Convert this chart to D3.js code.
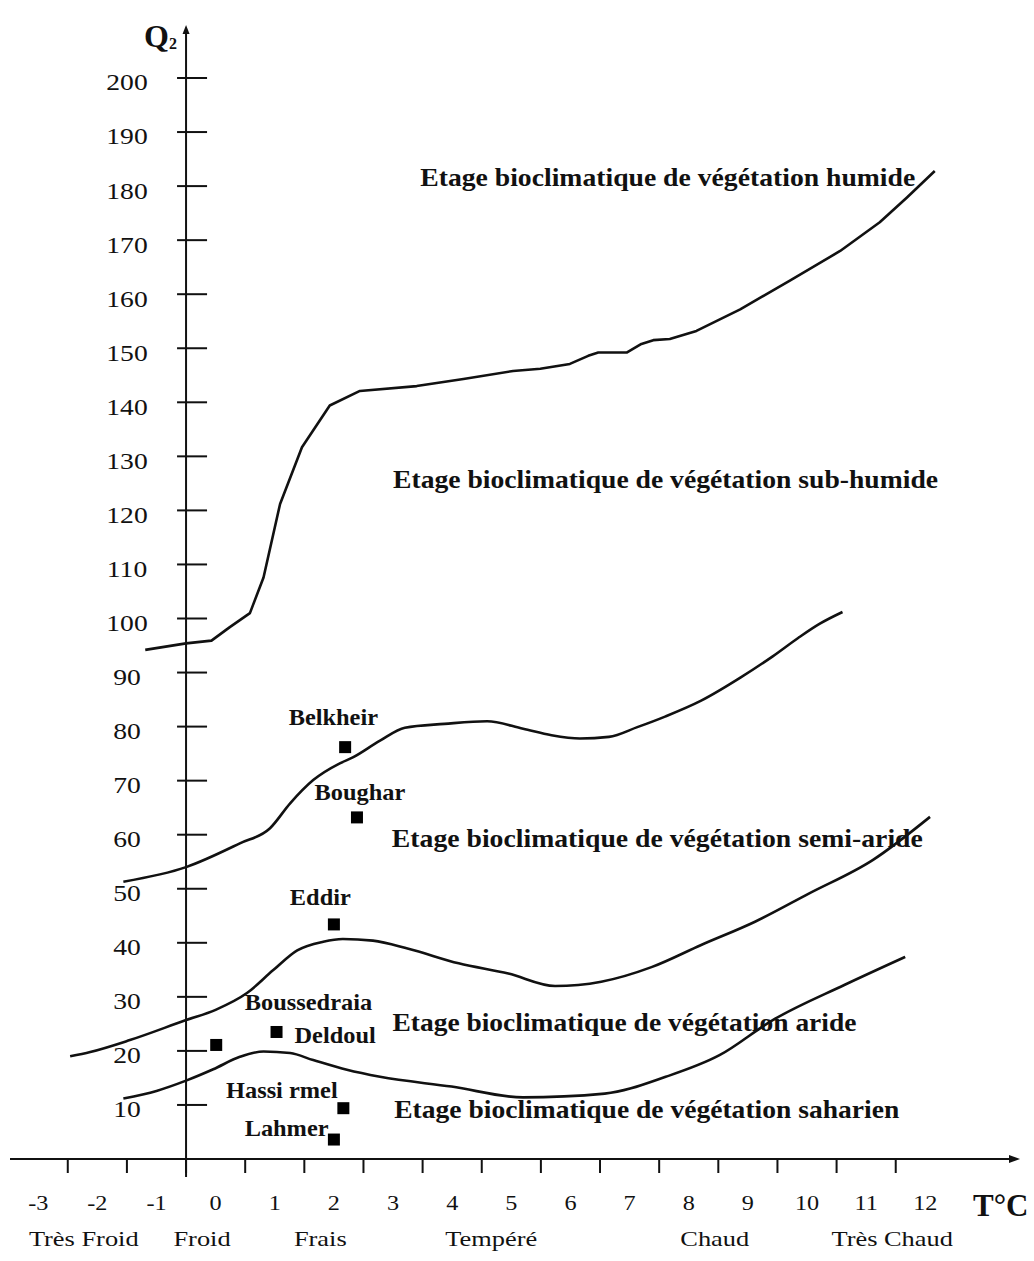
<!DOCTYPE html>
<html><head><meta charset="utf-8">
<script src="https://cdn.jsdelivr.net/npm/d3@7"></script>
<style>
html,body{margin:0;padding:0;background:#fff;}
svg{display:block;}
text{font-family:"Liberation Serif","Times New Roman",serif;fill:#111;}
</style></head><body>
<svg id="chart" width="1034" height="1261"></svg>
<script>
// ---------- data ----------
const tempLabels = [-3,-2,-1,0,1,2,3,4,5,6,7,8,9,10,11,12];
const tempTickMarks = [-2.5,-1.5,-0.5,0.5,1.5,2.5,3.5,4.5,5.5,6.5,7.5,8.5,9.5,10.5,11.5];
const q2Ticks = [10,20,30,40,50,60,70,80,90,100,110,120,130,140,150,160,170,180,190,200];
const climateClasses = ["Très Froid","Froid","Frais","Tempéré","Chaud","Très Chaud"];
const climateClassPos = [-2.23,-0.23,1.77,4.66,8.44,11.44];

// limits between bioclimatic stages: [m (°C), Q2]
const limitHumid = [[-1.19,94.2],[-0.5,95.4],[-0.07,95.9],[0.24,98.4],[0.58,101.0],[0.81,107.6],[1.09,121.2],[1.46,131.7],[1.93,139.4],[2.44,142.1],[3.40,143.0],[4.19,144.3],[5.03,145.8],[5.49,146.2],[5.99,147.1],[6.30,148.6],[6.47,149.2],[6.95,149.2],[7.20,150.8],[7.40,151.5],[7.68,151.7],[8.13,153.2],[8.87,157.2],[9.71,162.5],[10.56,168.0],[11.23,173.3],[11.69,177.9],[12.16,182.8]];
const limitSubHumid = [[-1.56,51.3],[-0.5,54.0],[0.41,58.4],[0.92,61.2],[1.26,65.8],[1.65,70.1],[2.10,73.2],[2.32,74.3],[2.78,77.4],[3.20,79.8],[3.87,80.5],[4.59,81.0],[5.20,79.6],[5.68,78.4],[6.16,77.8],[6.65,78.1],[7.13,79.9],[7.61,81.9],[8.21,84.8],[8.88,89.1],[9.42,93.0],[9.85,96.4],[10.21,99.0],[10.60,101.2]];
const limitSemiArid = [[-2.46,19.0],[-2.12,19.8],[-1.45,22.0],[-0.5,25.7],[0.0,27.6],[0.53,30.7],[0.97,34.9],[1.38,38.6],[1.82,40.2],[2.15,40.7],[2.66,40.4],[3.26,38.9],[4.11,36.2],[4.95,34.3],[5.74,32.0],[6.52,32.8],[7.37,35.5],[8.21,39.6],[9.12,43.9],[10.03,49.1],[11.11,55.3],[12.08,63.3]];
const limitArid = [[-1.56,11.2],[-1.0,12.6],[-0.5,14.5],[-0.04,16.6],[0.41,18.9],[0.81,19.9],[1.26,19.6],[1.65,18.3],[2.22,16.5],[2.78,15.2],[3.99,13.4],[5.20,11.4],[6.58,12.1],[7.61,15.2],[8.52,19.2],[9.42,25.7],[10.63,32.2],[11.66,37.4]];
const limits = [limitHumid, limitSubHumid, limitSemiArid, limitArid];

// stations
const stationNames = ["Belkheir","Boughar","Eddir","Boussedraia","Deldoul","Hassi rmel","Lahmer"];
const stationM = [2.19,2.39,2.00,1.03,0.01,2.16,2.00];
const stationQ2 = [76.2,63.2,43.4,23.5,21.1,9.4,3.6];
const stationLabelM = [1.99,2.44,1.77,1.57,2.02,1.12,1.20];
const stationLabelQ2 = [81.7,67.9,48.5,29.1,22.9,12.8,5.7];

// stage labels
const stageNames = ["Etage bioclimatique de végétation humide","Etage bioclimatique de végétation sub-humide","Etage bioclimatique de végétation semi-aride","Etage bioclimatique de végétation aride","Etage bioclimatique de végétation saharien"];
const stageM = [3.46,3.00,2.98,2.99,3.02];
const stageQ2 = [181.7,125.8,59.4,25.3,9.2];

// ---------- drawing ----------
const svg = d3.select("#chart");
const x = d3.scaleLinear().domain([-3,12]).range([38.2,925.3]);
const y = d3.scaleLinear().domain([0,200]).range([1159,78]);
const ink = "#111";

function stext(g, px, py, str, size, sx, anchor, weight){
  return g.append("text")
    .attr("transform",`translate(${px},${py}) scale(${sx},1)`)
    .attr("text-anchor",anchor||"middle")
    .attr("dy","0.35em")
    .style("font-size",size+"px")
    .style("font-weight",weight||"normal")
    .text(str);
}

const axisX0 = x(-0.5), axisY0 = y(0);

// x axis
svg.append("line").attr("x1",10).attr("x2",1012).attr("y1",axisY0).attr("y2",axisY0)
  .attr("stroke",ink).attr("stroke-width",2);
svg.append("path").attr("d",`M1020,${axisY0} L1009,${axisY0-4} L1009,${axisY0+4} Z`).attr("fill",ink);
svg.selectAll(".xt").data(tempTickMarks).enter().append("line")
  .attr("x1",d=>x(d)).attr("x2",d=>x(d)).attr("y1",axisY0).attr("y2",axisY0+14)
  .attr("stroke",ink).attr("stroke-width",2);

// y axis
svg.append("line").attr("x1",axisX0).attr("x2",axisX0).attr("y1",axisY0+18).attr("y2",32)
  .attr("stroke",ink).attr("stroke-width",2);
svg.append("path").attr("d",`M${axisX0},25 L${axisX0-3.5},34 L${axisX0+3.5},34 Z`).attr("fill",ink);
svg.selectAll(".yt").data(q2Ticks).enter().append("line")
  .attr("x1",axisX0-9).attr("x2",axisX0+21).attr("y1",d=>y(d)).attr("y2",d=>y(d))
  .attr("stroke",ink).attr("stroke-width",2);

// y tick labels
const gyl = svg.append("g");
q2Ticks.forEach(q=>stext(gyl,127,y(q)+4,String(q),24,1.15,"middle"));
// x tick labels
const gxl = svg.append("g");
tempLabels.forEach(t=>stext(gxl,x(t),1202,String(t),22,1.1,"middle"));
// class labels
climateClasses.forEach((c,i)=>stext(gxl,x(climateClassPos[i]),1238,c,22,1.2,"middle"));
// axis titles
stext(svg,973,1205,"T°C",31,1,"start","bold");
const qt = svg.append("text").attr("x",144).attr("y",47).style("font-size","32px").style("font-weight","bold");
qt.append("tspan").text("Q");
qt.append("tspan").attr("dy",2).style("font-size","16px").text("2");

// limit curves
const lineSmooth = d3.line().x(d=>x(d[0])).y(d=>y(d[1])).curve(d3.curveMonotoneX);
const lineStraight = d3.line().x(d=>x(d[0])).y(d=>y(d[1]));
svg.selectAll(".lim").data(limits).enter().append("path")
  .attr("d",(d,i)=> i===0 ? lineStraight(d) : lineSmooth(d))
  .attr("fill","none").attr("stroke",ink).attr("stroke-width",2.6)
  .attr("stroke-linejoin","round");

// stage labels
const widths = [495,545,531,464,505];
stageNames.forEach((s,i)=>{
  svg.append("text").attr("x",x(stageM[i])).attr("y",y(stageQ2[i])).attr("dy","0.35em")
    .attr("textLength",widths[i]).attr("lengthAdjust","spacingAndGlyphs")
    .style("font-size","26px").style("font-weight","bold").text(s);
});

// stations
svg.selectAll(".st").data(stationNames).enter().append("rect")
  .attr("x",(d,i)=>x(stationM[i])-6).attr("y",(d,i)=>y(stationQ2[i])-6)
  .attr("width",12).attr("height",12).attr("fill","#000");
const gsl = svg.append("g");
stationNames.forEach((s,i)=>stext(gsl,x(stationLabelM[i]),y(stationLabelQ2[i]),s,23,1.06,"middle","bold"));
</script>
</body></html>
